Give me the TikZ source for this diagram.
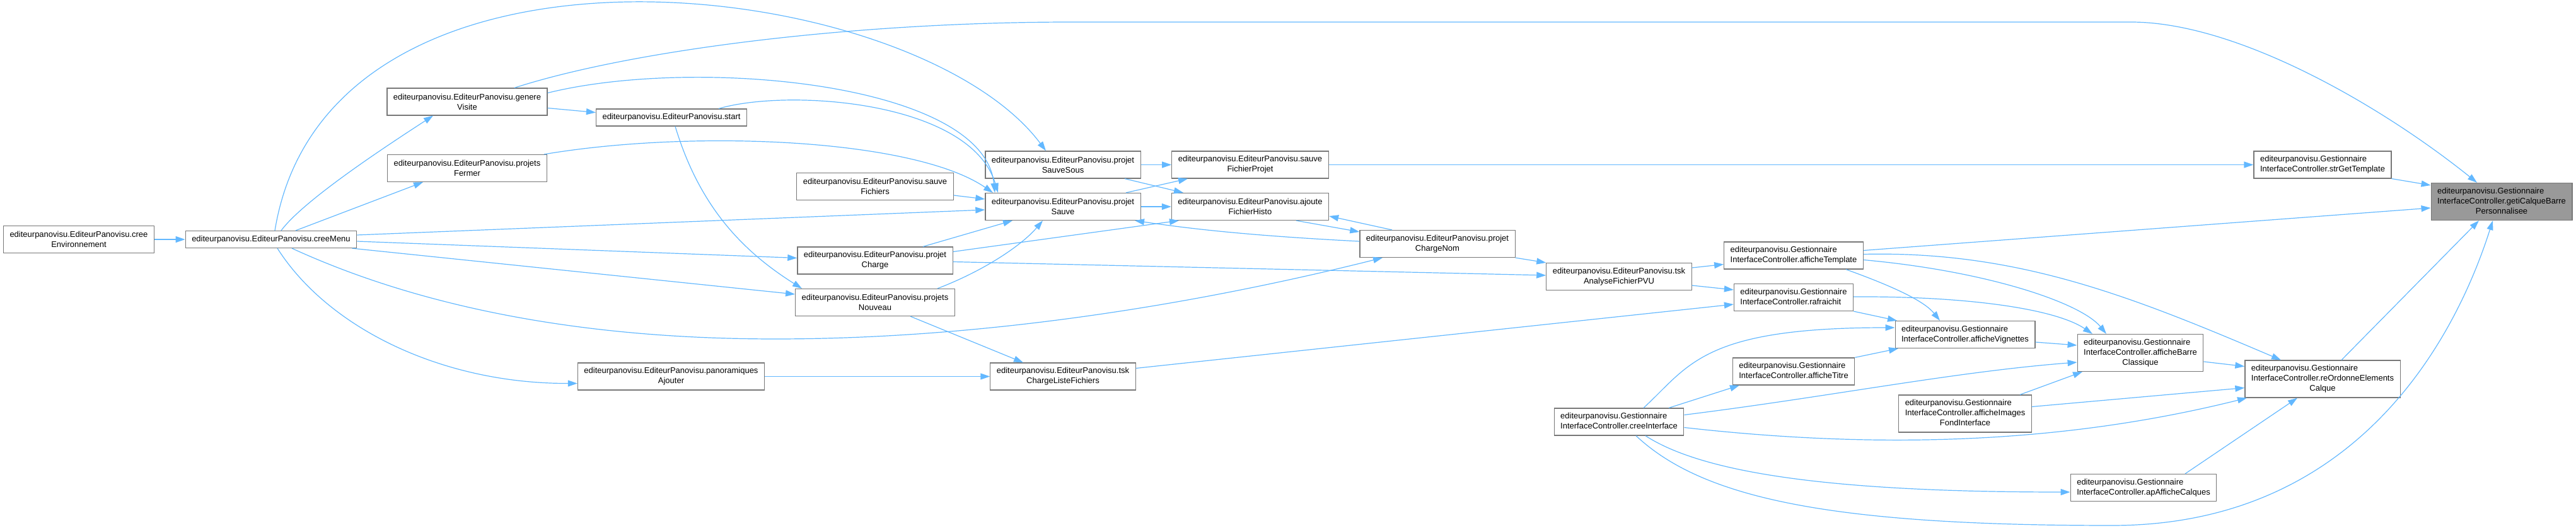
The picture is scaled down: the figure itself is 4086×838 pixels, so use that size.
\documentclass[tikz,border=0pt]{standalone}
\usepackage{fontspec}
\setmainfont{Liberation Sans}
\usetikzlibrary{arrows.meta}

\definecolor{edgeblue}{HTML}{63B8FF}
\definecolor{boxline}{HTML}{777777}
\definecolor{selfill}{HTML}{999999}

\newcommand{\ep}{editeurpanovisu.EditeurPanovisu.}
\newcommand{\gic}[1]{\begin{tabular}{@{}l@{}}editeurpanovisu.Gestionnaire\\InterfaceController.#1\end{tabular}}
\newcommand{\gicc}[2]{\begin{tabular}{@{}l@{}}editeurpanovisu.Gestionnaire\\InterfaceController.#1\\\multicolumn{1}{@{}c@{}}{#2}\end{tabular}}

\begin{document}
\begin{tikzpicture}[
	x=0.5pt, y=-0.5pt,
	fn/.style={
		draw=boxline, line width=0.6pt, fill=white, rectangle,
		minimum height=21.5pt, inner xsep=5pt, inner ysep=1pt,
		font={\fontsize{6.5}{8}\selectfont}, align=center
	},
	fn1/.style={minimum height=13.5pt},
	fn3/.style={minimum height=29.5pt},
	arr/.style={-{Triangle[length=7.5pt,width=5pt]}, draw=edgeblue, line width=0.6pt},
	]
	\useasboundingbox (0,0) rectangle (4086,838);
	
	% EditeurPanovisu
	\node[fn] (env) at (125,380) {\ep cree\\Environnement};
	\node[fn, fn1] (menu) at (430,380) {\ep creeMenu};
	\node[fn] (visite) at (741,161.5) {\ep genere\\Visite};
	\node[fn] (fermer) at (741,267) {\ep projets\\Fermer};
	\node[fn, fn1] (start) at (1065,186.5) {\ep start};
	\node[fn] (ajout) at (1064.5,597.5) {\ep panoramiques\\Ajouter};
	\node[fn] (sauvefic) at (1388,296) {\ep sauve\\Fichiers};
	\node[fn] (charge) at (1388,413.5) {\ep projet\\Charge};
	\node[fn] (nouveau) at (1388,480) {\ep projets\\Nouveau};
	\node[fn] (sauvesous) at (1686,261.5) {\ep projet\\SauveSous};
	\node[fn] (sauve) at (1686,328) {\ep projet\\Sauve};
	\node[fn] (listefic) at (1686,597.5) {\ep tsk\\ChargeListeFichiers};
	\node[fn] (sauveproj) at (1983,261.5) {\ep sauve\\FichierProjet};
	\node[fn] (histo) at (1983,328) {\ep ajoute\\FichierHisto};
	\node[fn] (chargenom) at (2280,387) {\ep projet\\ChargeNom};
	\node[fn] (analyse) at (2568,439) {\ep tsk\\AnalyseFichierPVU};
	
	% GestionnaireInterfaceController
	\node[fn] (iface) at (2568,669.5) {\gic{creeInterface}};
	\node[fn] (tmpl) at (2845,405.5) {\gic{afficheTemplate}};
	\node[fn] (rafr) at (2845,472) {\gic{rafraichit}};
	\node[fn] (titre) at (2845,589.5) {\gic{afficheTitre}};
	\node[fn] (vign) at (3117,531) {\gic{afficheVignettes}};
	\node[fn, fn3] (fond) at (3117,656.5) {\gicc{afficheImages}{FondInterface}};
	\node[fn, fn3] (barre) at (3395,560) {\gicc{afficheBarre}{Classique}};
	\node[fn] (calques) at (3400,774) {\gic{apAfficheCalques}};
	\node[fn] (strtmpl) at (3684,261.5) {\gic{strGetTemplate}};
	\node[fn, fn3] (ordre) at (3684,601.5) {\gicc{reOrdonneElements}{Calque}};
	\node[fn, fn3, fill=selfill] (geti) at (3968,320) {\gicc{getiCalqueBarre}{Personnalisee}};
	
	% creeEnvironnement, creeMenu
	\draw[arr] (env) -- (menu);
	\draw[arr] ([xshift=8pt]menu.north) .. controls (480,320) and (600,240) .. ([xshift=-27pt]visite.south);
	\draw[arr] ([xshift=19.5pt]menu.north) -- ([xshift=-35pt]fermer.south);
	\draw[arr] ([xshift=3pt]menu.north) .. controls (520,-150) and (1450,-40) .. ([xshift=-13.5pt]sauvesous.north);
	\draw[arr] ([yshift=3.5pt]menu.east) -- ([yshift=-2.5pt]sauve.west);
	\draw[arr] ([yshift=-1.5pt]menu.east) -- ([yshift=2pt]charge.west);
	\draw[arr] ([xshift=-4pt]menu.south east) -- ([yshift=6.5pt]nouveau.west);
	\draw[arr] ([xshift=16.5pt]menu.south) .. controls (650,480) and (900,538) .. (1230,538)
		.. controls (1600,538) and (1950,470) .. ([xshift=-43.5pt]chargenom.south);
	\draw[arr] ([xshift=5pt]menu.south) .. controls (520,520) and (700,609) .. ([yshift=-5.5pt]ajout.west);
	
	% genereVisite, start, projetsFermer
	\draw[arr] ([yshift=-5pt]visite.east) -- ([yshift=4pt]start.west);
	\draw[arr] ([yshift=7pt]visite.east) .. controls (1100,90) and (1560,130) .. ([xshift=-54pt]sauve.north);
	\draw[arr] ([xshift=37.5pt]visite.north) .. controls (1000,80) and (1350,35) .. (1700,35) -- (3380,35)
		.. controls (3550,35) and (3780,170) .. ([xshift=-19.5pt]geti.north);
	\draw[arr] ([xshift=37.5pt]start.north) .. controls (1250,140) and (1540,160) .. ([xshift=-51.5pt]sauve.north);
	\draw[arr] ([xshift=3pt]start.south) .. controls (1110,330) and (1180,400) .. ([xshift=-58pt]nouveau.north);
	\draw[arr] ([xshift=61pt]fermer.north) .. controls (1100,205) and (1450,220) .. ([xshift=-55.5pt]sauve.north);
	\draw[arr] (ajout) -- (listefic);
	
	% sauveFichiers, projetCharge, projetsNouveau
	\draw[arr] ([yshift=-7pt]sauvefic.east) -- ([yshift=6pt]sauve.west);
	\draw[arr] ([xshift=38pt]charge.north) -- ([xshift=-40pt]sauve.south);
	\draw[arr] ([xshift=49.5pt]nouveau.north) .. controls (1560,430) and (1620,390) .. ([xshift=-16pt]sauve.south);
	\draw[arr] ([yshift=7pt]charge.east) -- ([xshift=-56.5pt]histo.south);
	\draw[arr] ([yshift=-1pt]charge.east) -- ([yshift=1pt]analyse.west);
	\draw[arr] ([xshift=28pt]nouveau.south) -- ([xshift=-31.5pt]listefic.north);
	
	% projetSauveSous, projetSauve, tskChargeListeFichiers
	\draw[arr] (sauvesous) -- (sauveproj);
	\draw[arr] ([xshift=49pt]sauvesous.south) -- ([xshift=-53pt]histo.north);
	\draw[arr] ([xshift=50pt]sauve.north) -- ([xshift=-49.5pt]sauveproj.south);
	\draw[arr] (sauve) -- (histo);
	\draw[arr] ([yshift=6.5pt]listefic.east) -- ([yshift=-5.5pt]rafr.west);
	
	% sauveFichierProjet, ajouteFichierHisto, projetChargeNom
	\draw[arr] (sauveproj) -- (strtmpl);
	\draw[arr] ([xshift=36.5pt]histo.south) -- ([yshift=9.5pt]chargenom.west);
	\draw[arr] ([yshift=2pt]chargenom.west) .. controls (2000,375) and (1900,365) .. ([xshift=57pt]sauve.south);
	\draw[arr] ([xshift=-36pt]chargenom.north) -- ([yshift=-7.5pt]histo.east);
	\draw[arr] (chargenom.south east) -- (analyse.north west);
	
	% tskAnalyseFichierPVU, afficheTemplate, rafraichit
	\draw[arr] ([yshift=7pt]analyse.east) -- ([yshift=-7pt]tmpl.west);
	\draw[arr] ([yshift=-7pt]analyse.east) -- ([yshift=6pt]rafr.west);
	\draw[arr] ([yshift=4pt]tmpl.east) -- ([yshift=-5pt]geti.west);
	\draw[arr] ([yshift=1pt]tmpl.east) .. controls (3200,398) and (3380,470) .. ([xshift=-33pt]ordre.north);
	\draw[arr] ([yshift=-3.5pt]tmpl.east) .. controls (3150,430) and (3300,480) .. ([xshift=-27pt]barre.north);
	\draw[arr] ([xshift=41.5pt]tmpl.south) .. controls (2990,450) and (3050,475) .. ([xshift=-20pt]vign.north);
	\draw[arr] ([yshift=0.5pt]rafr.east) .. controls (3120,470) and (3260,490) .. ([xshift=-38pt]barre.north);
	\draw[arr] (rafr.south east) -- ([xshift=-54pt]vign.north);
	
	% creeInterface
	\draw[arr] ([xshift=19.5pt]iface.north) .. controls (2680,580) and (2700,520) .. ([yshift=5.5pt]vign.west);
	\draw[arr] ([xshift=39.5pt]iface.north) -- ([xshift=-43pt]titre.south);
	\draw[arr] ([yshift=5.5pt]iface.east) .. controls (2900,630) and (3100,590) .. ([yshift=-7.5pt]barre.west);
	\draw[arr] ([yshift=-4.5pt]iface.east) .. controls (2950,710) and (3250,710) .. ([xshift=-60pt]ordre.south);
	\draw[arr] ([xshift=21pt]iface.south) .. controls (2700,750) and (2900,781) .. ([yshift=-3.5pt]calques.west);
	\draw[arr] ([xshift=13.5pt]iface.south) .. controls (2700,790) and (2900,834) .. (3350,834)
		.. controls (3750,834) and (3900,520) .. ([xshift=-7pt]geti.south);
	
	% afficheTitre, afficheVignettes, afficheImagesFondInterface
	\draw[arr] (titre.north east) -- ([xshift=-53pt]vign.south);
	\draw[arr] ([yshift=-6pt]vign.east) -- ([yshift=6pt]barre.west);
	\draw[arr] ([xshift=43.5pt]fond.north) -- ([xshift=-46pt]barre.south);
	\draw[arr] ([yshift=5.5pt]fond.east) -- ([yshift=-7pt]ordre.west);
	
	% afficheBarreClassique, apAfficheCalques, reOrdonneElementsCalque, strGetTemplate
	\draw[arr] ([yshift=-7pt]barre.east) -- ([yshift=10pt]ordre.west);
	\draw[arr] ([xshift=33pt]calques.north) -- ([xshift=-20pt]ordre.south);
	\draw[arr] ([xshift=15pt]ordre.north) -- ([xshift=-18pt]geti.south);
	\draw[arr] (strtmpl.south east) -- ([yshift=13pt]geti.west);
	
\end{tikzpicture}
\end{document}
